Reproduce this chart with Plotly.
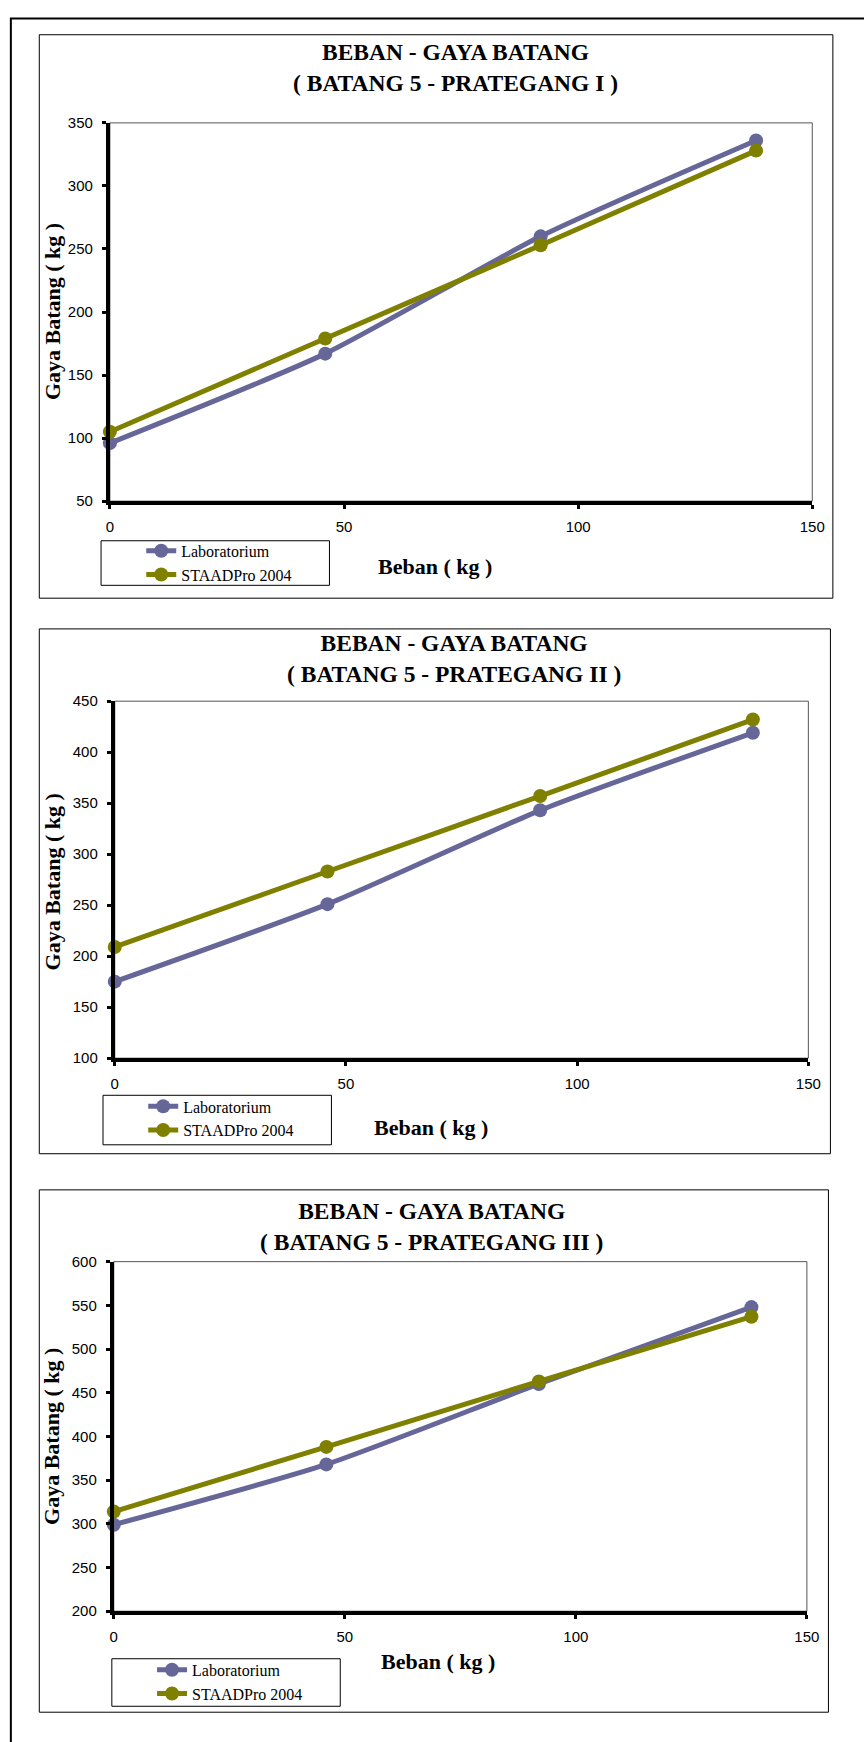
import plotly.graph_objects as go

W, H = 864, 1742

# ---- data ----
beban = [0, 46, 92, 138]
lab_1 = [96, 167, 260, 336]
staad_1 = [105, 179, 253, 328]
lab_2 = [175, 251, 343, 419]
staad_2 = [209, 283, 357, 432]
lab_3 = [299, 368, 460, 548]
staad_3 = [314, 388, 463, 537]

titles = [
    "BEBAN - GAYA BATANG<br>( BATANG 5 - PRATEGANG I )",
    "BEBAN - GAYA BATANG<br>( BATANG 5 - PRATEGANG II )",
    "BEBAN - GAYA BATANG<br>( BATANG 5 - PRATEGANG III )",
]
y_ranges = [[50, 350], [100, 450], [200, 600]]
x_label = "Beban ( kg )"
y_label = "Gaya Batang ( kg )"
series_names = ["Laboratorium", "STAADPro 2004"]

LAB_C = "#666699"
STA_C = "#808000"

# ---- layout (pixel geometry) ----
panels = [
    dict(box=(36, 26, 845.5, 595), plot=(108, 115, 824.5, 497), title_y=59, title_x=461,
         ytitle=(49, 306), xtitle=(440, 563), legend_box=(99, 537, 332, 582), legend_xy=(140, 530)),
    dict(box=(36, 626, 843, 1156), plot=(113, 699, 820.5, 1059.5), title_y=656, title_x=459,
         ytitle=(49, 882), xtitle=(436, 1130), legend_box=(101, 1097, 334, 1147), legend_xy=(142, 1091)),
    dict(box=(36, 1192.5, 841, 1720), plot=(112, 1265, 819, 1618), title_y=1229, title_x=436,
         ytitle=(49, 1442), xtitle=(443, 1669), legend_box=(110, 1666, 343, 1714), legend_xy=(151, 1660)),
]

def px(x):
    return x / W

def py(y):
    return 1 - y / H

data = [(lab_1, staad_1), (lab_2, staad_2), (lab_3, staad_3)]

fig = go.Figure()
shapes = []
annotations = []
layout_axes = {}

serif = "Liberation Serif"
sans = "Liberation Sans"

for i, (p, (lab, sta)) in enumerate(zip(panels, data)):
    n = "" if i == 0 else str(i + 1)
    xa, ya = "x" + n, "y" + n
    leg = "legend" + n
    for vals, name, col in [(lab, series_names[0], LAB_C), (sta, series_names[1], STA_C)]:
        fig.add_trace(go.Scatter(
            x=beban, y=vals, name=name, mode="lines+markers",
            line=dict(color=col, width=5, shape="spline", smoothing=0.6),
            marker=dict(color=col, size=14, symbol="circle"),
            xaxis=xa, yaxis=ya, legend=leg, cliponaxis=False,
        ))
    x0, y0, x1, y1 = p["plot"]
    layout_axes["xaxis" + n] = dict(
        domain=[px(x0), px(x1)], range=[0, 150], dtick=50, tick0=0,
        anchor=ya, showgrid=False, zeroline=False,
        showline=True, linewidth=4, linecolor="black",
        ticks="outside", ticklen=4, tickwidth=3, tickcolor="black",
        ticklabelstandoff=5,
        tickfont=dict(family=sans, size=15, color="black"),
    )
    layout_axes["yaxis" + n] = dict(
        domain=[py(y1), py(y0)], range=y_ranges[i], dtick=50,
        anchor=xa, showgrid=False, zeroline=False,
        showline=True, linewidth=4, linecolor="black",
        ticks="outside", ticklen=4, tickwidth=3, tickcolor="black",
        ticklabelstandoff=6,
        tickfont=dict(family=sans, size=15, color="black"),
    )
    # chart box
    bx0, by0, bx1, by1 = p["box"]
    shapes.append(dict(type="rect", xref="paper", yref="paper",
                       x0=px(bx0), x1=px(bx1), y0=py(by1), y1=py(by0),
                       line=dict(color="black", width=1), layer="below"))
    # plot area border (top/right thin)
    shapes.append(dict(type="rect", xref="paper", yref="paper",
                       x0=px(x0), x1=px(x1), y0=py(y1), y1=py(y0),
                       line=dict(color="#555555", width=1), layer="below"))
    # legend box
    lx0, ly0, lx1, ly1 = p["legend_box"]
    shapes.append(dict(type="rect", xref="paper", yref="paper",
                       x0=px(lx0), x1=px(lx1), y0=py(ly1), y1=py(ly0),
                       line=dict(color="black", width=1), layer="below"))
    lxx, lyy = p["legend_xy"]
    layout_axes[leg] = dict(
        x=px(lxx), y=py(lyy), xanchor="left", yanchor="top",
        bgcolor="rgba(0,0,0,0)", borderwidth=0,
        font=dict(family=serif, size=16, color="black"),
        tracegroupgap=0, itemwidth=30,
    )
    # titles
    annotations.append(dict(text="<b>" + titles[i].replace("<br>", "</b><br><b>") + "</b>",
                            xref="paper", yref="paper", x=px(p["title_x"]), y=py(p["title_y"]),
                            xanchor="center", yanchor="middle", showarrow=False,
                            font=dict(family=serif, size=23.5, color="black")))
    tx, ty = p["ytitle"]
    annotations.append(dict(text="<b>" + y_label + "</b>", textangle=-90,
                            xref="paper", yref="paper", x=px(tx), y=py(ty),
                            xanchor="center", yanchor="middle", showarrow=False,
                            font=dict(family=serif, size=22, color="black")))
    xx, xy = p["xtitle"]
    annotations.append(dict(text="<b>" + x_label + "</b>",
                            xref="paper", yref="paper", x=px(xx), y=py(xy),
                            xanchor="center", yanchor="middle", showarrow=False,
                            font=dict(family=serif, size=22, color="black")))

# outer page border (left/top visible)
shapes.append(dict(type="rect", xref="paper", yref="paper",
                   x0=px(7), x1=px(880), y0=py(1760), y1=py(9.5),
                   line=dict(color="black", width=2), layer="below"))

fig.update_layout(
    width=W, height=H, margin=dict(l=0, r=0, t=0, b=0),
    paper_bgcolor="white", plot_bgcolor="white",
    showlegend=True, shapes=shapes, annotations=annotations,
    **layout_axes,
)

fig.write_html("out.html")
